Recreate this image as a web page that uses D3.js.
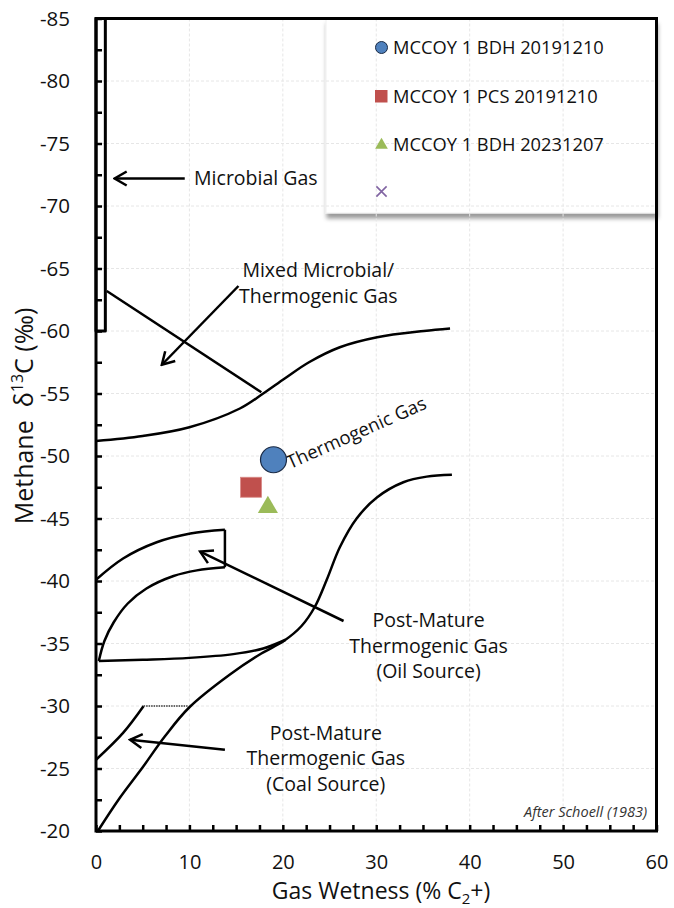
<!DOCTYPE html>
<html>
<head>
<meta charset="utf-8">
<script src="https://cdn.jsdelivr.net/npm/d3@7"></script>
<style>
  body { margin: 0; background: #fff; }
  svg { font-family: "Open Sans", sans-serif; }
</style>
</head>
<body>
<div id="chart"></div>
<script>
// axis ticks
var wetTicks = [0, 10, 20, 30, 40, 50, 60];
var deltaTicks = [-85, -80, -75, -70, -65, -60, -55, -50, -45, -40, -35, -30, -25, -20];

// sample series
var seriesNames = ["MCCOY 1 BDH 20191210", "MCCOY 1 PCS 20191210", "MCCOY 1 BDH 20231207", ""];
var seriesWetness = [19.0, 16.6, 18.4];
var seriesDelta = [-49.7, -47.5, -45.9];

// Schoell (1983) field boundaries, [wetness, delta]
var microbialBox = [[0, -85], [1, -85], [1, -60], [0, -60]];
var mixedLine = [[1.15, -63.2], [17.7, -55.1]];
var thermoUpper = [[0, -51.2], [5, -51.6], [10, -52.3], [15.4, -53.8], [17.9, -55.0], [20.2, -56.2],
  [22.8, -57.5], [26.1, -58.7], [30.1, -59.5], [35.1, -60.0], [37.9, -60.2]];
var thermoLower = [[0.2, -20.0], [2.5, -22.6], [5.0, -25.1], [7.4, -27.6], [10.0, -29.9], [14.3, -32.5],
  [17.7, -34.2], [20.1, -35.2], [22.0, -36.4], [23.4, -37.9], [24.7, -40.1], [26.1, -42.7],
  [27.9, -45.0], [30.1, -46.7], [32.9, -47.9], [35.4, -48.35], [38.1, -48.5]];
var oilFlat = [[0.3, -33.6], [5, -33.7], [10, -33.85], [14.7, -34.15], [17.9, -34.6], [20.3, -35.3]];
var oilArcLow = [[0.3, -33.6], [0.9, -35.2], [1.9, -36.7], [3.4, -38.2], [5.4, -39.4], [8.3, -40.4], [10.8, -40.85], [13.8, -41.1]];
var oilArcHigh = [[0, -40.1], [2.9, -41.8], [6.5, -43.1], [10.1, -43.8], [13.8, -44.1]];
var oilEdge = [[13.8, -44.1], [13.8, -41.1]];
var coalLine = [[0, -25.7], [2.9, -27.85], [5.1, -30.0]];
var coalCap = [[5.1, -30.0], [9.8, -30.0]];

// arrows: [from, to]
var arrows = [
  [[9.5, -72.2], [2.0, -72.2]],
  [[15.25, -63.6], [7.05, -57.3]],
  [[26.5, -36.8], [11.15, -42.35]],
  [[13.8, -26.5], [3.65, -27.3]]
];

// annotation text, anchored in data units
var fieldLabels = [
  {lines: ["Microbial Gas"], x: 10.5, y: -71.7, anchor: "start"},
  {lines: ["Mixed Microbial/", "Thermogenic Gas"], x: 23.8, y: -64.3, anchor: "middle"},
  {lines: ["Post-Mature", "Thermogenic Gas", "(Oil Source)"], x: 35.6, y: -36.3, anchor: "middle"},
  {lines: ["Post-Mature", "Thermogenic Gas", "(Coal Source)"], x: 24.6, y: -27.3, anchor: "middle"}
];

var colors = ["#4F81BD", "#C0504D", "#9BBB59", "#8064A2"];

var W = 674, H = 908;
var margin = {top: 18.5, right: 17.5, bottom: 77, left: 96};

var x = d3.scaleLinear().domain([0, 60]).range([margin.left, W - margin.right]);
var y = d3.scaleLinear().domain([-85, -20]).range([margin.top, H - margin.bottom]);

var svg = d3.select("#chart").append("svg")
  .attr("width", W)
  .attr("height", H);

var defs = svg.append("defs");
var shadow = defs.append("filter").attr("id", "shadow")
  .attr("x", "-10%").attr("y", "-10%").attr("width", "130%").attr("height", "130%");
shadow.append("feDropShadow")
  .attr("dx", 1).attr("dy", 5).attr("stdDeviation", 2.2)
  .attr("flood-color", "#000").attr("flood-opacity", 0.4);

defs.append("marker")
  .attr("id", "arrow")
  .attr("markerUnits", "userSpaceOnUse")
  .attr("viewBox", "-14 -9 16 18")
  .attr("markerWidth", 16).attr("markerHeight", 18)
  .attr("refX", 0).attr("refY", 0)
  .attr("orient", "auto")
  .append("path")
  .attr("d", "M-12,-7 L0,0 L-12,7")
  .attr("fill", "none")
  .attr("stroke", "#000")
  .attr("stroke-width", 2.5);

// legend background first, gridlines show through it
var legX = 326, legY = 19, legW = x(60) - 326, legH = 194;
svg.append("rect")
  .attr("x", legX).attr("y", legY)
  .attr("width", legW).attr("height", legH)
  .attr("fill", "#fff")
  .attr("stroke", "#f0f0f0")
  .attr("filter", "url(#shadow)");

// gridlines
var grid = svg.append("g").attr("stroke", "#e6e6e6").attr("stroke-dasharray", "3,2");
grid.selectAll(".gx").data(wetTicks.slice(1, -1)).join("line")
  .attr("x1", d => x(d)).attr("x2", d => x(d))
  .attr("y1", y(-85)).attr("y2", y(-20));
grid.selectAll(".gy").data(deltaTicks.slice(1, -1)).join("line")
  .attr("x1", x(0)).attr("x2", x(60))
  .attr("y1", d => y(d)).attr("y2", d => y(d));

// field boundaries
var line = d3.line().x(d => x(d[0])).y(d => y(d[1]));
var smooth = d3.line().x(d => x(d[0])).y(d => y(d[1])).curve(d3.curveCatmullRom.alpha(0.5));
var fields = svg.append("g").attr("fill", "none").attr("stroke", "#000")
  .attr("stroke-width", 2.5).attr("stroke-linejoin", "round");

fields.append("path").attr("d", line(microbialBox) + "Z").attr("stroke-width", 3);
fields.append("path").attr("d", line(mixedLine));
fields.append("path").attr("d", smooth(thermoUpper));
fields.append("path").attr("d", smooth(thermoLower));
fields.append("path").attr("d", smooth(oilFlat));
fields.append("path").attr("d", smooth(oilArcLow));
fields.append("path").attr("d", smooth(oilArcHigh));
fields.append("path").attr("d", line(oilEdge));
fields.append("path").attr("d", smooth(coalLine));
fields.append("path").attr("d", line(coalCap))
  .attr("stroke", "#666").attr("stroke-width", 2).attr("stroke-dasharray", "1.5,1");

fields.selectAll(".arrow").data(arrows).join("path")
  .attr("d", d => line(d))
  .attr("marker-end", "url(#arrow)");

// labels
var labels = svg.append("g").attr("font-size", 19.5).attr("fill", "#111");
fieldLabels.forEach(function(l) {
  var t = labels.append("text")
    .attr("x", x(l.x)).attr("y", y(l.y))
    .attr("text-anchor", l.anchor);
  l.lines.forEach(function(s, i) {
    t.append("tspan").attr("x", x(l.x)).attr("dy", i === 0 ? 0 : 25.5).text(s);
  });
});

labels.append("text")
  .attr("transform", "translate(" + x(20.8) + "," + y(-48.95) + ") rotate(-24)")
  .attr("font-size", 18.5)
  .text("Thermogenic Gas");

labels.append("text")
  .attr("x", x(59.0)).attr("y", y(-21.1))
  .attr("text-anchor", "end")
  .attr("font-size", 14.5)
  .attr("font-style", "italic")
  .attr("fill", "#333")
  .text("After Schoell (1983)");

// sample points
var pts = svg.append("g");
pts.append("circle")
  .attr("cx", x(seriesWetness[0])).attr("cy", y(seriesDelta[0])).attr("r", 13)
  .attr("fill", colors[0]).attr("stroke", "#1a2a44").attr("stroke-width", 1.2);
pts.append("rect")
  .attr("x", x(seriesWetness[1]) - 10.5).attr("y", y(seriesDelta[1]) - 10)
  .attr("width", 21).attr("height", 20)
  .attr("fill", colors[1]).attr("stroke", "#d98a88").attr("stroke-width", 0.8);
pts.append("path")
  .attr("d", d3.symbol(d3.symbolTriangle, 175)())
  .attr("transform", "translate(" + x(seriesWetness[2]) + "," + y(seriesDelta[2]) + ")")
  .attr("fill", colors[2]);

// legend entries
var leg = svg.append("g").attr("font-size", 18.3).attr("fill", "#111");
var legRows = [47.5, 96, 144, 191.5];
leg.selectAll(".lt").data(seriesNames).join("text")
  .attr("x", 393).attr("y", (d, i) => legRows[i])
  .attr("dy", "0.36em")
  .text(d => d);
leg.append("circle").attr("cx", 381.5).attr("cy", legRows[0]).attr("r", 6)
  .attr("fill", colors[0]).attr("stroke", "#1a2a44").attr("stroke-width", 1);
leg.append("rect").attr("x", 375).attr("y", legRows[1] - 6).attr("width", 12.5).attr("height", 12.5)
  .attr("fill", colors[1]);
leg.append("path").attr("d", d3.symbol(d3.symbolTriangle, 70)())
  .attr("transform", "translate(381.5," + (legRows[2] + 1) + ")")
  .attr("fill", colors[2]);
leg.append("path").attr("d", d3.symbol(d3.symbolTimes, 70)())
  .attr("transform", "translate(381.5," + legRows[3] + ")")
  .attr("fill", "none").attr("stroke", colors[3]).attr("stroke-width", 1.6);

// minor ticks, inward
var minorX = d3.range(0, 60.01, 2.5);
var minorY = d3.range(-85, -19.99, 2.5);
svg.append("g")
  .attr("transform", "translate(0," + y(-20) + ")")
  .call(d3.axisBottom(x).tickValues(minorX).tickSize(-6).tickFormat(""))
  .call(g => g.select(".domain").remove())
  .selectAll("line").attr("stroke", "#000").attr("stroke-width", 2.5);
svg.append("g")
  .attr("transform", "translate(" + x(0) + ",0)")
  .call(d3.axisLeft(y).tickValues(minorY).tickSize(-6).tickFormat(""))
  .call(g => g.select(".domain").remove())
  .selectAll("line").attr("stroke", "#000").attr("stroke-width", 2.5);

// frame
svg.append("rect")
  .attr("x", x(0)).attr("y", y(-85))
  .attr("width", x(60) - x(0)).attr("height", y(-20) - y(-85))
  .attr("fill", "none").attr("stroke", "#000").attr("stroke-width", 3);

// tick labels (plain hyphen minus, as in the source chart)
svg.append("g")
  .attr("transform", "translate(0," + y(-20) + ")")
  .call(d3.axisBottom(x).tickValues(wetTicks).tickSize(0).tickPadding(24).tickFormat(d => String(d)))
  .call(g => g.select(".domain").remove())
  .selectAll("text").attr("font-size", 20).attr("font-family", "Open Sans").attr("fill", "#111");
svg.append("g")
  .attr("transform", "translate(" + x(0) + ",0)")
  .call(d3.axisLeft(y).tickValues(deltaTicks).tickSize(0).tickPadding(26).tickFormat(d => String(d)))
  .call(g => g.select(".domain").remove())
  .selectAll("text").attr("font-size", 20.5).attr("font-family", "Open Sans").attr("fill", "#111");

// axis titles
var xt = svg.append("text")
  .attr("x", 381).attr("y", 899)
  .attr("text-anchor", "middle")
  .attr("font-size", 23).attr("fill", "#111");
xt.append("tspan").text("Gas Wetness (% C");
xt.append("tspan").attr("font-size", 15).attr("dy", 5).text("2");
xt.append("tspan").attr("dy", -5).text("+)");

var yt = svg.append("text")
  .attr("transform", "translate(33,416) rotate(-90)")
  .attr("text-anchor", "middle")
  .style("white-space", "pre")
  .attr("font-size", 25).attr("fill", "#111");
yt.append("tspan").text("Methane  δ");
yt.append("tspan").attr("font-size", 16).attr("dy", -10).text("13");
yt.append("tspan").attr("dy", 10).text("C (‰)");
</script>
</body>
</html>
